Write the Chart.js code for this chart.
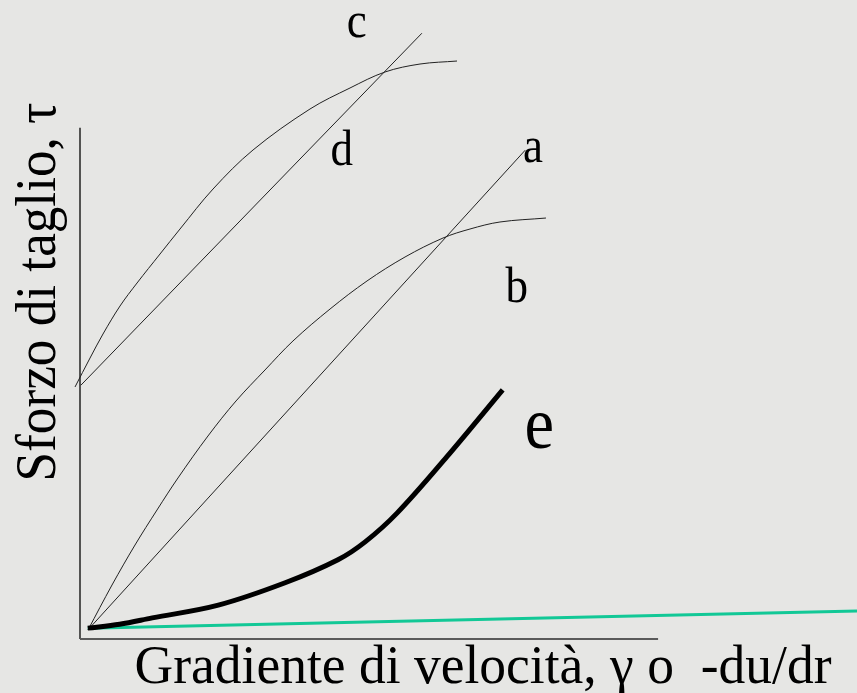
<!DOCTYPE html>
<html>
<head>
<meta charset="utf-8">
<script src="https://cdn.jsdelivr.net/npm/chart.js@4/dist/chart.umd.min.js"></script>
<style>
  html, body { margin: 0; padding: 0; background: #e6e6e4; }
  canvas { display: block; }
</style>
</head>
<body>
<canvas id="flowChart" width="857" height="693"></canvas>
<script>
// curve data (x: shear rate, y: shear stress), arbitrary units 0..100
const aX = [1.0, 57.3];
const aY = [1.4, 76.5];

const bX = [1.03, 4.12, 7.08, 9.91, 12.61, 16.47, 20.08, 23.81, 27.41, 32.18, 36.94, 41.83, 46.72, 50.19, 54.05, 59.97];
const bY = [1.41, 8.45, 14.71, 20.19, 25.20, 31.77, 37.25, 42.10, 46.64, 51.64, 56.03, 59.78, 62.75, 64.16, 65.26, 65.88];

const cX = [-0.64, 1.29, 2.96, 5.15, 7.34, 10.30, 12.87, 17.12, 22.27, 29.60, 34.75, 39.25, 43.76, 48.52];
const cY = [39.44, 43.97, 47.73, 52.11, 55.71, 60.25, 64.16, 70.42, 76.53, 82.94, 86.23, 88.73, 89.98, 90.45];

const dX = [0.1, 44.0];
const dY = [39.7, 94.8];

const eX = [1.0, 5.1, 9.3, 17.8, 26.4, 33.2, 36.7, 40.8, 47.2, 54.4];
const eY = [1.7, 2.3, 3.3, 5.3, 8.8, 12.4, 15.2, 19.7, 28.5, 39.0];

// newtonian fluid with very low viscosity
const gX = [1.0, 100];
const gY = [1.7, 4.4];

// axis lines
const axisXx = [0, 74.4];
const axisXy = [0, 0];
const axisYx = [0, 0];
const axisYy = [0, 80];

// curve labels
const curveNames = ['a', 'b', 'c', 'd', 'e'];
const curveLabelX = [58.3, 56.2, 35.6, 33.7, 59.1];
const curveLabelY = [74.6, 52.7, 94.2, 74.2, 29.9];

const xTitle = 'Gradiente di velocità, γ o  -du/dr';
const yTitle = 'Sforzo di taglio, τ';

function pts(xs, ys) {
  return xs.map((x, i) => ({ x: x, y: ys[i] }));
}

function line(data, color, width, curved, order) {
  return {
    data: data,
    borderColor: color,
    borderWidth: width,
    pointRadius: 0,
    fill: false,
    clip: false,
    tension: curved ? 0.35 : 0,
    order: order
  };
}

const textFont = '"Liberation Serif", "Times New Roman", serif';

function drawText(ctx, text, x, y, size, sx, angle) {
  ctx.save();
  ctx.translate(x, y);
  if (angle) ctx.rotate(angle);
  ctx.scale(sx, 1);
  ctx.font = size + 'px ' + textFont;
  ctx.fillStyle = '#000';
  ctx.textAlign = 'center';
  ctx.textBaseline = 'alphabetic';
  ctx.fillText(text, 0, 0);
  ctx.restore();
}

function fitScale(ctx, text, size, width) {
  ctx.save();
  ctx.font = size + 'px ' + textFont;
  const w = ctx.measureText(text).width;
  ctx.restore();
  return width / w;
}

const textPlugin = {
  id: 'textPlugin',
  beforeDraw(chart) {
    const ctx = chart.ctx;
    ctx.save();
    ctx.fillStyle = '#e6e6e4';
    ctx.fillRect(0, 0, chart.width, chart.height);
    ctx.restore();
  },
  afterDraw(chart) {
    const ctx = chart.ctx;
    const xs = chart.scales.x, ys = chart.scales.y;
    curveNames.forEach((n, i) => {
      const big = n === 'e';
      drawText(ctx, n, xs.getPixelForValue(curveLabelX[i]), ys.getPixelForValue(curveLabelY[i]),
        big ? 74 : 50, 0.9, 0);
    });
    // axis titles
    const area = chart.chartArea;
    drawText(ctx, xTitle, 483, area.bottom + 44, 54, fitScale(ctx, xTitle, 54, 697), 0);
    drawText(ctx, yTitle, area.left - 25, 292, 56, fitScale(ctx, yTitle, 56, 379), -Math.PI / 2);
  }
};

const config = {
  type: 'line',
  data: {
    datasets: [
      line(pts(eX, eY), '#000', 5, true, 0),
      line(pts(gX, gY), '#12c896', 3, false, 1),
      line(pts(aX, aY), '#222', 1, false, 2),
      line(pts(bX, bY), '#222', 1, true, 2),
      line(pts(cX, cY), '#222', 1, true, 2),
      line(pts(dX, dY), '#222', 1, false, 2),
      line(pts(axisXx, axisXy), '#5a5a5a', 2, false, 3),
      line(pts(axisYx, axisYy), '#222', 1.5, false, 3)
    ]
  },
  options: {
    responsive: false,
    animation: false,
    events: [],
    layout: { padding: { left: 80, right: 0, top: 0, bottom: 54 } },
    plugins: {
      legend: { display: false },
      tooltip: { enabled: false }
    },
    scales: {
      x: { type: 'linear', min: 0, max: 100, display: false },
      y: { type: 'linear', min: 0, max: 100, display: false }
    }
  },
  plugins: [textPlugin]
};

let flowChart = null;
function makeChart() {
  if (!flowChart) flowChart = new Chart(document.getElementById('flowChart'), config);
  else flowChart.update();
}

if (document.fonts && document.fonts.load) {
  document.fonts.load('50px "Liberation Serif"').then(makeChart, makeChart);
} else {
  makeChart();
}
</script>
</body>
</html>
